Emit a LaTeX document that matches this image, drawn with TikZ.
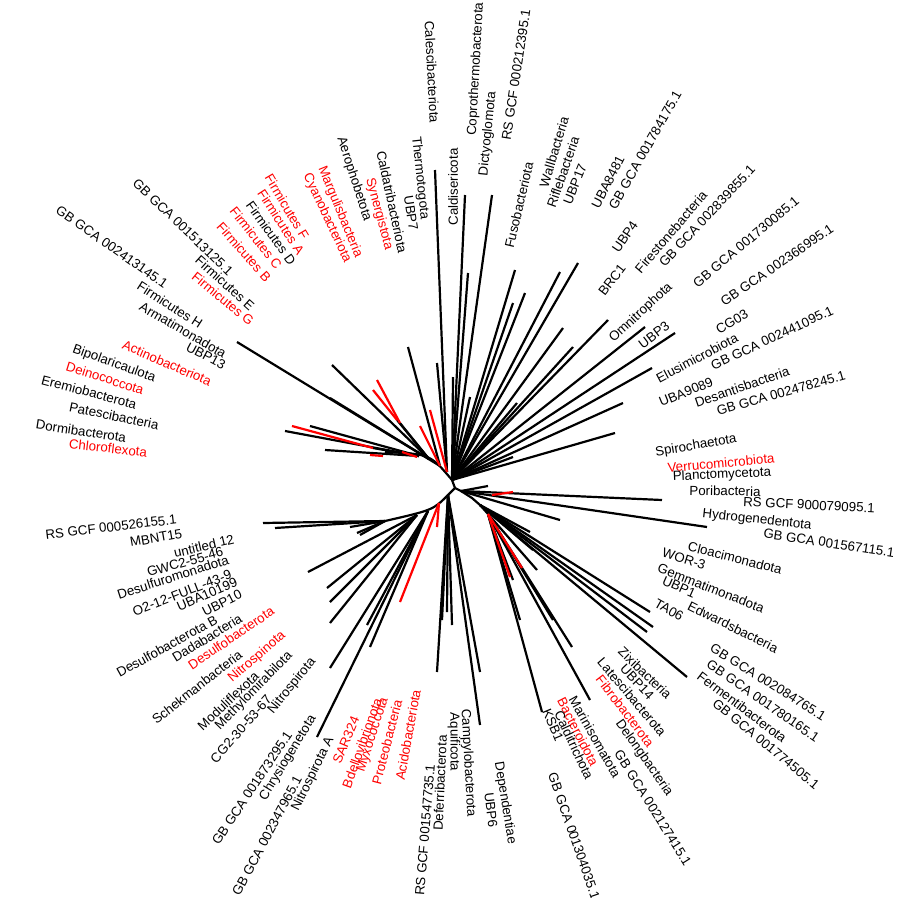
\documentclass[tikz,border=0pt]{standalone}
\usepackage{fontspec}
\setmainfont{Liberation Sans}

\begin{document}
\begin{tikzpicture}[x=1pt, y=-1pt,
    branch/.style={line width=2.2pt},
    redbranch/.style={branch, red},
    taxon/.style={font=\fontsize{13.3}{15}\selectfont, inner sep=0pt}
]
\useasboundingbox (0,0) rectangle (923,897);

% inner branches
\coordinate (hub) at (455,488);
\coordinate (jUp) at (452,480);
\coordinate (jDn) at (448,495);
\coordinate (jR) at (461,491);
\coordinate (u0) at (447,472);
\coordinate (u1) at (440,466);
\coordinate (u2) at (429,459);
\coordinate (u3) at (419,456);
\coordinate (jUL) at (385,452);
\coordinate (r2) at (472,498);
\coordinate (r3) at (480,505);
\coordinate (r4) at (488,514);
\coordinate (l1) at (439,503);
\coordinate (l2) at (428,511);
\coordinate (l3) at (417,515);
\coordinate (jLL) at (385,521);

\draw[branch] (jUL) .. controls (430,454) .. (jUp) -- (hub) -- (jDn) .. controls (433,510) .. (jLL);
\draw[branch] (hub) -- (jR) -- (r2) -- (r3) -- (r4);

% leaves
\foreach \x/\y in {435/170, 437/363} \draw[branch] (u0) -- (\x,\y);
\foreach \x/\y in {237/342, 408/347} \draw[branch] (u1) -- (\x,\y);
\foreach \x/\y in {332/365, 400/423, 397/420, 330/398} \draw[branch] (u2) -- (\x,\y);
\foreach \x/\y in {310/426, 285/431, 373/448, 325/450} \draw[branch] (u3) -- (\x,\y);
\foreach \x/\y in {465/195, 468/273, 492/195, 515/270, 525/293, 513/303, 560/272, 578/263, 563/328, 573/347,
                   608/320, 645/327, 675/333, 652/368, 623/403, 615/433, 470/397, 517/403, 513/457, 453/377}
  \draw[branch] (jUp) -- (\x,\y);
\foreach \x/\y in {488/486, 662/500, 707/527, 560/520} \draw[branch] (jR) -- (\x,\y);
\foreach \x/\y in {650/612, 653/627, 647/632, 687/677, 530/532, 533/550} \draw[branch] (r3) -- (\x,\y);
\foreach \x/\y in {572/647, 590/700, 542/712, 537/570, 513/580, 520/620, 553/620} \draw[branch] (r4) -- (\x,\y);
\foreach \x/\y in {480/725, 480/672, 437/672, 447/612, 452/625, 442/620} \draw[branch] (jDn) -- (\x,\y);
\foreach \x/\y in {330/668, 370/647, 367/625, 317/737} \draw[branch] (l2) -- (\x,\y);
\foreach \x/\y in {330/623, 330/602, 327/588, 308/572} \draw[branch] (l3) -- (\x,\y);
\foreach \x/\y in {263/523, 275/528, 350/527, 357/533, 360/535} \draw[branch] (jLL) -- (\x,\y);

% red leaves
\draw[redbranch] (u0) -- (430,410);
\draw[redbranch] (u1) -- (420,426);
\foreach \x/\y in {510/577, 522/568} \draw[redbranch] (r4) -- (\x,\y);
\foreach \x/\y in {400/602, 437/527} \draw[redbranch] (l1) -- (\x,\y);
\foreach \ax/\ay/\bx/\by in {400/423/377/380, 397/420/373/390, 373/448/292/426, 370/455/383/456,
                             402/452/417/457, 492/495/513/492}
  \draw[redbranch] (\ax,\ay) -- (\bx,\by);

% tip labels, turned towards the hub
\foreach \lx/\ly/\txt/\col [count=\i] in {
  112/247/GB GCA 002413145.1/black, 170/305/Firmicutes H/black, 183/330/Armatimonadota/black,
  206/356/UBP13/black, 167/363/Actinobacteriota/red, 114/364/Bipolaricaulota/black,
  105/378/Deinococcota/red, 89/392/Eremiobacterota/black, 114/416/Patescibacteria/black,
  81/431/Dormibacterota/black, 108/448/Chloroflexota/red, 183/227/GB GCA 001513125.1/black,
  225/283/Firmicutes E/black, 223/299/Firmicutes G/red, 287/207/Firmicutes F/red,
  281/222/Firmicutes A/red, 271/233/Firmicutes D/black, 256/238/Firmicutes C/red,
  244/252/Firmicutes B/red, 340/212/Margulisbacteria/red, 327/218/Cyanobacteriota/red,
  354/179/Aerophobetota/black, 392/202/Caldatribacteriota/black, 379/214/Synergistota/red,
  420/178/Thermotogota/black, 411/213/UBP7/black, 432/72/Calescibacteriota/black,
  453/187/Caldisericota/black, 476/69/Coprothermobacterota/black, 488/134/Dictyoglomota/black,
  516/75/RS GCF 000212395.1/black, 519/205/Fusobacteriota/black, 554/152/Wallbacteria/black,
  563/172/Riflebacteria/black, 575/184/UBP17/black, 608/182/UBA8481/black,
  645/150/GB GCA 001784175.1/black, 625/237/UBP4/black, 612/280/BRC1/black,
  671/232/Firestonebacteria/black, 707/216/GB GCA 002839855.1/black, 641/313/Omnitrophota/black,
  746/242/GB GCA 001730085.1/black, 777/265/GB GCA 002366995.1/black, 654/335/UBP3/black,
  732/322/CG03/black, 697/358/Elusimicrobiota/black, 772/338/GB GCA 002441095.1/black,
  686/392/UBA9089/black, 742/387/Desantisbacteria/black, 781/393/GB GCA 002478245.1/black,
  696/446/Spirochaetota/black, 721/463/Verrucomicrobiota/red, 722/475/Planctomycetota/black,
  725/491/Poribacteria/black, 809/505/RS GCF 900079095.1/black, 757/520/Hydrogenedentota/black,
  829/543/GB GCA 001567115.1/black, 735/558/Cloacimonadota/black, 684/559/WOR-3/black,
  711/588/Gemmatimonadota/black, 679/587/UBP1/black, 669/610/TA06/black,
  733/627/Edwardsbacteria/black, 768/682/GB GCA 002084765.1/black, 763/701/GB GCA 001780165.1/black,
  742/707/Fermentibacterota/black, 766/744/GB GCA 001774505.1/black, 645/673/Zixibacteria/black,
  637/682/UBP14/black, 632/697/Latescibacterota/black, 625/711/Fibrobacterota/red,
  644/758/Delongbacteria/black, 653/808/GB GCA 002127415.1/black, 595/737/Marinisomatota/black,
  578/732/Bacteroidota/red, 574/745/Calditrichota/black, 553/725/KSB1/black,
  574/836/GB GCA 001304035.1/black, 505/803/Dependentiae/black, 491/810/UBP6/black,
  468/763/Campylobacterota/black, 454/742/Aquificota/black, 440/783/Deferribacterota/black,
  425/830/RS GCF 001547735.1/black, 408/735/Acidobacteriota/red, 387/742/Proteobacteria/red,
  373/735/Myxococcota/red, 362/743/Bdellovibrionota/red, 346/740/SAR324/red,
  111/527/RS GCF 000526155.1/black, 156/538/MBNT15/black, 204/546/untitled 12/black,
  185/562/GWC2-55-46/black, 173/577/Desulfuromonadota/black, 182/593/O2-12-FULL-43-9/black,
  207/594/UBA10199/black, 222/603/UBP10/black, 167/646/Desulfobacterota B/black,
  207/638/Dadabacteria/black, 231/638/Desulfobacterota/red, 257/657/Nitrospinota/red,
  197/687/Schekmanbacteria/black, 228/701/Moduliflexota/black, 254/691/Methylomirabilota/black,
  241/729/CG2-30-53-67/black, 292/686/Nitrospirota/black, 252/788/GB GCA 001873295.1/black,
  288/758/Chrysiogenetota/black, 267/836/GB GCA 002347965.1/black, 313/774/Nitrospirota A/black}{
  \pgfmathsetmacro\ang{atan2(487-\ly,\lx-453)}
  \pgfmathsetmacro\rot{\ang>90 ? \ang-180 : (\ang<-90 ? \ang+180 : \ang)}
  \node[taxon, text=\col, rotate=\rot] (t\i) at (\lx,\ly) {\txt};
}
\end{tikzpicture}
\end{document}
